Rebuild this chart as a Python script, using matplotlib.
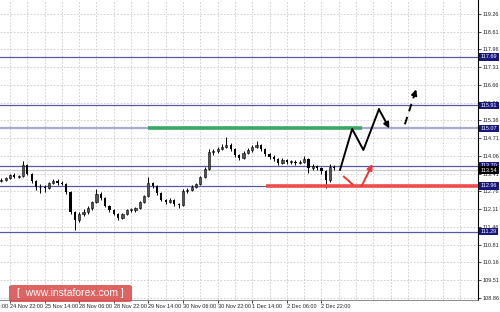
import matplotlib
matplotlib.use('Agg')
import matplotlib.pyplot as plt
import matplotlib.transforms as mtransforms
from matplotlib.patches import FancyBboxPatch
import numpy as np

plt.rcParams['font.family'] = ['Liberation Sans', 'DejaVu Sans']

# 2-hour bars
first_open = 113.15
closes = [113.18, 113.25, 113.36, 113.29, 113.33, 113.73, 113.40, 113.14, 112.92, 112.92,
          112.89, 113.07, 113.14, 113.07, 113.03, 112.74, 112.01, 111.71, 111.93, 112.01,
          112.15, 112.37, 112.67, 112.52, 112.23, 112.08, 111.93, 111.79, 111.93, 112.08,
          112.08, 112.15, 112.37, 112.59, 113.07, 112.96, 112.70, 112.45, 112.37, 112.45,
          112.30, 112.26, 112.78, 112.81, 112.92, 113.03, 113.29, 113.58, 114.21, 114.24,
          114.32, 114.39, 114.46, 114.32, 114.10, 113.99, 114.17, 114.28, 114.39, 114.46,
          114.32, 114.13, 114.02, 113.95, 113.80, 113.91, 113.84, 113.84, 113.80, 113.84,
          113.95, 113.62, 113.69, 113.62, 113.51, 113.18, 113.66, 113.62]
highs = [113.24, 113.30, 113.41, 113.42, 113.38, 113.86, 113.78, 113.45, 113.18, 113.02,
         112.98, 113.12, 113.22, 113.20, 113.13, 113.08, 112.78, 112.05, 112.00, 112.10,
         112.22, 112.42, 112.85, 112.74, 112.56, 112.28, 112.12, 111.97, 111.98, 112.13,
         112.16, 112.20, 112.42, 112.64, 113.29, 113.12, 113.00, 112.75, 112.50, 112.52,
         112.50, 112.35, 112.84, 112.88, 112.98, 113.08, 113.34, 113.64, 114.30, 114.32,
         114.40, 114.48, 114.74, 114.55, 114.36, 114.15, 114.24, 114.34, 114.45, 114.60,
         114.50, 114.36, 114.18, 114.08, 113.99, 113.98, 113.96, 113.92, 113.90, 113.92,
         114.06, 114.00, 113.76, 113.74, 113.66, 113.56, 113.78, 113.72]
lows = [113.10, 113.14, 113.21, 113.24, 113.25, 113.30, 113.35, 113.08, 112.80, 112.70,
        112.75, 112.85, 113.02, 113.00, 112.98, 112.68, 111.95, 111.35, 111.65, 111.85,
        111.95, 112.08, 112.32, 112.45, 112.18, 112.02, 111.88, 111.72, 111.74, 111.88,
        112.00, 112.02, 112.10, 112.33, 112.55, 112.88, 112.64, 112.40, 112.30, 112.32,
        112.22, 112.15, 112.22, 112.72, 112.76, 112.88, 112.98, 113.24, 113.55, 114.10,
        114.18, 114.28, 114.34, 114.25, 114.04, 113.91, 113.95, 114.12, 114.22, 114.34,
        114.26, 114.06, 113.96, 113.88, 113.72, 113.76, 113.78, 113.76, 113.74, 113.76,
        113.80, 113.45, 113.56, 113.55, 113.40, 112.89, 113.12, 113.56]

levels = [117.69, 115.91, 115.07, 113.70, 112.96, 111.29]
last_price = 113.54
y_ticks = [119.26, 118.61, 117.96, 117.31, 116.66, 116.01, 115.36, 114.71, 114.06,
           113.41, 112.76, 112.11, 111.46, 110.81, 110.16, 109.51, 108.86]
x_tick_pos = [2, 10, 18, 26, 34, 42, 50, 58, 66, 74]
x_tick_labels = ['24 Nov 22:00', '25 Nov 14:00', '28 Nov 06:00', '28 Nov 22:00',
                 '29 Nov 14:00', '30 Nov 06:00', '30 Nov 22:00', '1 Dec 14:00',
                 '2 Dec 06:00', '2 Dec 22:00']

# drawn forecast
green_level, green_from, green_to = 115.07, 33.9, 83.4
red_level, red_from = 112.96, 61.2
path_x = [78.3, 81.1, 83.7, 87.3, 89.7]
path_y = [113.55, 115.05, 114.28, 115.77, 115.07]
dash_x = [93.3, 95.9]
dash_y = [115.22, 116.50]
red1_x = [79.2, 81.2]
red1_y = [113.30, 113.02]
red2_x = [83.3, 85.8]
red2_y = [112.96, 113.76]

fig = plt.figure(figsize=(5, 3.12), dpi=100)
ax = fig.add_axes([0, 12 / 312, 478 / 500, 300 / 312])
ax.set_xlim(-0.31, 110.2)
ax.set_ylim(108.784, 119.773)

# grid
ax.set_xticks(x_tick_pos)
ax.set_xticklabels(x_tick_labels, ha='left')
ax.set_xticks([k + 4 for k in x_tick_pos] + [k for k in range(82, 110, 4)], minor=True)
ax.set_yticks(y_ticks)
ax.grid(True, which='both', ls=(0, (2, 2)), color='#c9c9c9', lw=0.6)
ax.yaxis.tick_right()
ax.tick_params(axis='y', length=2, labelsize=4, pad=1.5, colors='#222222', width=0.6)
ax.tick_params(axis='x', which='major', length=2, labelsize=4, pad=1, colors='#222222', width=0.6)
ax.tick_params(axis='x', which='minor', length=0)
ax.text(-6, 108.784, '24 Nov 06:00', fontsize=4, ha='left', va='top', color='#222222',
        transform=ax.transData + mtransforms.ScaledTranslation(0, -3 / 72, fig.dpi_scale_trans),
        clip_on=False)
for s in ['left', 'top']:
    ax.spines[s].set_visible(False)
ax.spines['right'].set_color('black')
ax.spines['right'].set_linewidth(0.8)
ax.spines['bottom'].set_color('#777777')
ax.spines['bottom'].set_linewidth(0.6)

# candles
x = np.arange(len(closes))
opens = np.array([first_open] + closes[:-1])
closes_a = np.array(closes)
ax.vlines(x, lows, highs, color='black', lw=0.7, zorder=3)
body_lo = np.minimum(opens, closes_a)
body_h = np.maximum(np.abs(closes_a - opens), 0.02)
bull = closes_a >= opens
ax.bar(x[bull], body_h[bull], bottom=body_lo[bull], width=0.5, color='#555555',
       edgecolor='black', linewidth=0.4, zorder=3)
ax.bar(x[~bull], body_h[~bull], bottom=body_lo[~bull], width=0.5, color='black', zorder=3)

# levels
for lv in levels:
    if lv == 115.07:
        ax.axhline(lv, color='#a9a9d6', lw=1.6, zorder=2)
    elif lv == red_level:
        ax.plot([-0.31, red_from], [lv, lv], color='#5858a8', lw=0.9, zorder=2)
    else:
        ax.axhline(lv, color='#5858a8', lw=0.9, zorder=2)
ax.axhline(last_price, color='#c8c8c8', lw=0.9, zorder=1.5)

ax.plot([green_from, green_to], [green_level, green_level], color='#3aa866', lw=2.6,
        solid_capstyle='butt', zorder=4)
ax.plot([red_from, 110.2], [red_level, red_level], color='#ee4b4b', lw=2.6,
        solid_capstyle='butt', zorder=4)

# forecast arrows
ax.plot(path_x[:-1], path_y[:-1], color='black', lw=1.4, zorder=5)
ax.annotate('', xy=(path_x[-1], path_y[-1]), xytext=(path_x[-2], path_y[-2]),
            arrowprops=dict(arrowstyle='-|>', color='black', lw=1.4, mutation_scale=8,
                            shrinkA=0, shrinkB=0), zorder=5)
ax.plot(dash_x, dash_y, color='black', lw=1.4, ls=(0, (4, 3)), zorder=5)
ax.annotate('', xy=(dash_x[-1], dash_y[-1]),
            xytext=(dash_x[-1] - 0.3, dash_y[-1] - 0.15),
            arrowprops=dict(arrowstyle='-|>', color='black', lw=1.4, mutation_scale=8,
                            shrinkA=0, shrinkB=0), zorder=5)
ax.plot(red1_x, red1_y, color='#ee3535', lw=1.4, zorder=5)
ax.annotate('', xy=(red2_x[-1], red2_y[-1]), xytext=(red2_x[0], red2_y[0]),
            arrowprops=dict(arrowstyle='-|>', color='#ee3535', lw=1.4, mutation_scale=8,
                            shrinkA=0, shrinkB=0), zorder=5)

# right-axis price boxes
trans = mtransforms.blended_transform_factory(ax.transAxes, ax.transData)
for lv in levels:
    ax.text(1.006, lv, f'{lv:.2f}', transform=trans, va='center', ha='left', fontsize=4,
            color='white', clip_on=False, zorder=6,
            bbox=dict(boxstyle='square,pad=0.25', fc='#16167c', ec='none'))
ax.text(1.006, last_price, f'{last_price:.2f}', transform=trans, va='center', ha='left',
        fontsize=4, color='white', clip_on=False, zorder=6,
        bbox=dict(boxstyle='square,pad=0.25', fc='black', ec='none'))

# watermark
wm = FancyBboxPatch((9 / 500, 10 / 312), 123 / 500, 17 / 312,
                    boxstyle='round,pad=0,rounding_size=0.006', transform=fig.transFigure,
                    fc='#d94848', ec='none', alpha=0.85, zorder=10)
fig.patches.append(wm)
fig.text(70 / 500, 18.5 / 312, '[  www.instaforex.com ]', color='white', fontsize=7.5,
         ha='center', va='center', zorder=11)

fig.savefig('out.png', dpi=100)
